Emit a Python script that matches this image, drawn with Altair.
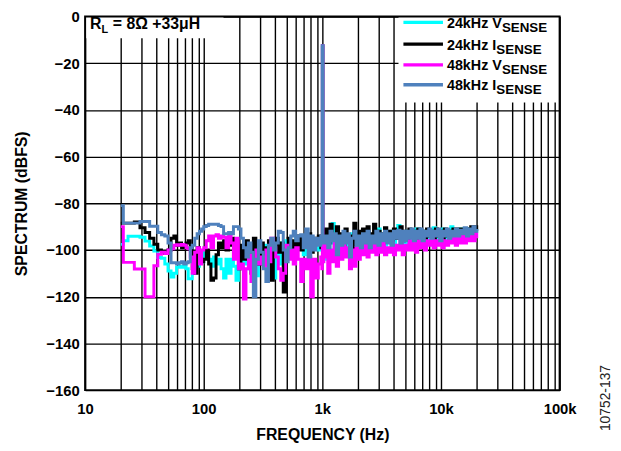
import altair as alt
import pandas as pd

# ---------------- data ----------------
freq_low = [20, 21, 23, 26, 29, 32, 35, 38, 41, 44, 47, 50, 53, 56, 59, 62, 65, 68, 71, 74,
            77, 80, 84, 88, 92, 96, 100]
freq_mid = [105, 110, 115, 121, 127, 133, 140, 147, 154, 162,
            170, 178, 187, 196, 206, 216, 227, 238, 250, 262,
            275, 289, 303, 318, 334, 351, 368, 386, 405, 425,
            446, 468, 491, 515, 541, 568, 596, 626, 657, 690,
            724, 760, 798, 838, 880, 924, 970, 990, 1000, 1010]
freq_high = [1030, 1070, 1110, 1160, 1210, 1260, 1310, 1370, 1430, 1490,
             1550, 1620, 1690, 1760, 1840, 1920, 2000, 2090, 2180, 2280,
             2380, 2480, 2590, 2700, 2820, 2940, 3070, 3200, 3340, 3490,
             3640, 3800, 3970, 4140, 4320, 4510, 4710, 4920, 5130, 5360,
             5590, 5840, 6090, 6360, 6640, 6930, 7240, 7550, 7880, 8230,
             8590, 8970, 9360, 9770, 10200, 10650, 11100, 11600, 12100, 12600,
             13200, 13800, 14400, 15000, 15700, 16400, 17100, 17800, 18600, 19400,
             20000]
freq = freq_low + freq_mid + freq_high

# 24kHz V_SENSE (cyan)
v24 = [-97.6, -96, -94.1, -94.1, -94.5, -96.2, -98.3, -100.4, -103.2, -103.5,
       -106, -109, -111.6, -110, -107.4, -107, -107.4, -106, -108, -112.3,
       -112.3, -110, -103, -107, -104, -105, -101,
       -102, -104, -107, -103, -106, -104, -108, -112, -104, -110,
       -104, -107, -113, -106, -100, -106, -99, -108, -103, -97,
       -111, -100, -104, -98, -106, -100, -97, -112, -99, -106,
       -97, -101, -96, -103, -98, -100, -95, -99, -97, -102,
       -96, -99, -95, -98, -96, -100, -95, -97, -12.5, -102,
       -104, -95, -100, -97, -88.6, -96, -101, -94, -99, -95,
       -100, -94, -98, -93, -99, -95, -100, -94, -97, -92,
       -98, -94, -99, -93, -97, -91, -96, -94, -98, -93,
       -96, -92, -97, -93, -89.5, -95, -93, -97, -92, -96,
       -93, -95, -91, -96, -92, -95, -92, -96, -92, -94,
       -90.5, -95, -92, -94, -91, -95, -92, -94, -90, -94,
       -92, -94, -91, -94, -92, -93, -91, -93, -91, -92,
       -91]

# 24kHz I_SENSE (black)
i24 = [-88.5, -88.5, -88.5, -88, -90.5, -92.5, -95, -97.5, -100, -101,
       -101.5, -100, -95, -94, -98, -97, -99, -98, -97, -96,
       -99, -108, -110, -99, -101, -105, -104,
       -100, -106, -113, -112, -102, -97, -99, -96, -100, -98,
       -95, -103, -96, -108, -98, -104, -96, -101, -110, -95,
       -100, -106, -97, -103, -99, -96, -113, -98, -95, -101,
       -97, -118, -99, -95, -102, -96, -99, -94, -100, -95,
       -98, -93, -101, -95, -97, -94, -99, -96, -12.5, -98,
       -100, -91, -97, -89, -95, -99, -90, -96, -93, -99,
       -91, -96, -94, -99, -88.5, -95, -92, -98, -91, -96,
       -90, -97, -93, -89, -96, -92, -98, -93, -90.5, -96,
       -92, -97, -91, -95, -93, -90, -96, -92, -95, -91,
       -94, -92, -96, -91, -94, -92, -95, -91, -94, -92,
       -95, -91, -94, -92, -95, -91, -94, -92, -94, -91,
       -93, -91, -94, -91, -93, -91, -93, -90, -92, -90,
       -92]

# 48kHz V_SENSE (magenta)
v48 = [-90, -105.3, -105.3, -108.1, -108.1, -120, -120, -106.7, -101.8, -101,
       -101.5, -100, -99.5, -98, -97.8, -98, -97.6, -98, -99, -99.5,
       -103, -110, -101, -99, -106, -100, -99,
       -96, -94, -99, -94, -93.5, -95, -94, -94.5, -99, -94,
       -97, -104, -95, -108, -106, -121, -108, -102, -113.5, -104,
       -100, -106, -103, -107, -100, -105, -95, -99, -103, -108,
       -113, -110, -98, -104, -100, -106, -99, -104, -113.5, -104,
       -108, -103, -120, -104, -112, -106, -103, -108, -12.5, -105,
       -103, -98, -110, -100, -105, -97, -107, -99, -104, -98,
       -103, -99, -108, -100, -107, -99, -104, -98, -102, -97,
       -103, -98, -101, -97, -102, -98, -101, -97, -102, -99,
       -101, -97, -102, -98, -100, -96, -102, -98, -100, -96,
       -100, -97, -101, -96, -99, -97, -100, -96, -98, -95,
       -99, -96, -98, -95, -99, -96, -98, -95, -97, -95,
       -98, -95, -97, -94, -97, -95, -96, -94, -96, -93,
       -95]

# 48kHz I_SENSE (blue)
i48 = [-81, -88.5, -88.5, -88.5, -87.8, -87.8, -89.8, -89.8, -92.5, -93.5,
       -94, -97, -105.5, -105.5, -106, -105.5, -105, -106, -105.5, -105,
       -99, -98, -95, -93, -92, -91, -90,
       -89.5, -89, -89, -89, -89, -89.5, -90, -93, -93, -92.5,
       -93, -90, -90, -91, -95, -99, -103, -97, -101, -120,
       -104, -96, -101, -108, -113.5, -98, -95, -100, -97, -92,
       -92.5, -100, -105, -99, -94, -92, -96, -94, -93.5, -99,
       -91, -103, -94, -100, -95, -98, -94, -96, -12.5, -97,
       -97, -94, -99, -92, -96, -93, -102, -94, -98, -92,
       -97, -93, -103, -95, -92, -98, -94, -99, -93, -97,
       -92, -99, -94, -97, -92, -98, -93, -96, -92, -97,
       -93, -98, -92, -95, -91.5, -97, -92, -96, -92, -95,
       -91, -96, -92, -95, -91, -96, -92, -94, -91, -95,
       -92, -94, -91, -96, -92, -94, -91, -95, -92, -94,
       -91, -94, -91.5, -93, -90.5, -94, -91, -93, -90, -92,
       -91]

series = [
    ("24kHz V", "SENSE", "#00FFFF", v24),
    ("24kHz I", "SENSE", "#000000", i24),
    ("48kHz V", "SENSE", "#FF00FF", v48),
    ("48kHz I", "SENSE", "#4F81BD", i48),
]

decade_vals = [10, 100, 1000, 10000, 100000]
decade_labels = ["10", "100", "1k", "10k", "100k"]
grid_vals = [m * d for d in [10, 100, 1000, 10000] for m in range(1, 10)] + [100000]
y_vals = [0, -20, -40, -60, -80, -100, -120, -140, -160]

FONT = "Liberation Sans"
W, H = 480, 378

label_expr = " : ".join(
    [f"datum.value == {v} ? '{l}'" for v, l in zip(decade_vals, decade_labels)]
) + " : ''"

x_enc = alt.X(
    "f:Q",
    scale=alt.Scale(type="log", domain=[10, 100000], nice=False),
    axis=alt.Axis(
        values=grid_vals, labelExpr=label_expr, title="FREQUENCY (Hz)",
        grid=True, gridColor="black", gridWidth=1.4, gridOpacity=1,
        ticks=False, domain=False, labelPadding=12, labelOverlap=False,
        labelFlush=False, labelFontSize=15, labelFontWeight="bold",
        labelColor="black", titleFontSize=16, titleFontWeight="bold",
        titleColor="black", titleY=45, titleBaseline="middle",
    ),
)
y_enc = alt.Y(
    "db:Q",
    scale=alt.Scale(domain=[-160, 0], nice=False),
    axis=alt.Axis(
        values=y_vals, title="SPECTRUM (dBFS)",
        grid=True, gridColor="black", gridWidth=1.4, gridOpacity=1,
        ticks=False, domain=False, labelPadding=6, labelFontSize=15,
        labelFontWeight="bold", labelColor="black", titleFontSize=16,
        titleFontWeight="bold", titleColor="black", titleX=-64,
        titleBaseline="middle",
    ),
)

layers = []
for name, sub, color, vals in series:
    df = pd.DataFrame({"f": freq, "db": vals})
    layers.append(
        alt.Chart(df).mark_line(color=color, strokeWidth=3, interpolate="step-after")
        .encode(x=x_enc, y=y_enc)
    )

one = alt.Data(values=[{}])

def box(x0, x1, y0, y1, **kw):
    return alt.Chart(one).mark_rect(**kw).encode(
        x=alt.value(x0), x2=alt.value(x1), y=alt.value(y0), y2=alt.value(y1))

def txt(s, x, y, size, weight="bold", **kw):
    return alt.Chart(one).mark_text(text=s, font=FONT, fontSize=size, fontWeight=weight,
                                    align="left", baseline="alphabetic", **kw).encode(
        x=alt.value(x), y=alt.value(y))

# white boxes for annotation and legend
layers.append(box(0, 140, 0, 22, fill="white"))
layers.append(box(317, W, 0, 87, fill="white"))

# annotation R_L = 8Ω +33μH
layers.append(txt("R", 5, 13, 16, color="black"))
layers.append(txt("L", 16.6, 17, 11, color="black"))
layers.append(txt("= 8Ω +33μH", 28, 13, 16, color="black"))

# legend
row_y = [6, 28, 49, 69]
for (name, sub, color, vals), ry in zip(series, row_y):
    layers.append(
        alt.Chart(one).mark_rule(color=color, strokeWidth=3.5).encode(
            x=alt.value(322), x2=alt.value(362), y=alt.value(ry))
    )
    layers.append(txt(name, 366, ry + 5.5, 14.5, color="black"))
    subx = 366 + (55.6 if name.endswith("V") else 50)
    layers.append(txt(sub, subx, ry + 9.5, 13.5, color="black"))

# frame
layers.append(box(0, W, 0, H, fillOpacity=0, stroke="black", strokeWidth=2))

# figure code
layers.append(
    alt.Chart(one).mark_text(text="10752-137", font=FONT, fontSize=14, fontWeight="normal",
                             angle=270, align="center", baseline="middle", color="#222222")
    .encode(x=alt.value(527), y=alt.value(386))
)

chart = alt.layer(*layers).properties(
    width=W, height=H,
    autosize=alt.AutoSizeParams(type="none"),
    padding={"left": 78, "top": 6, "right": 54, "bottom": 56},
).configure_view(stroke=None).configure(font=FONT)

chart.save("out.html", embed_options={"renderer": "svg", "actions": False})
